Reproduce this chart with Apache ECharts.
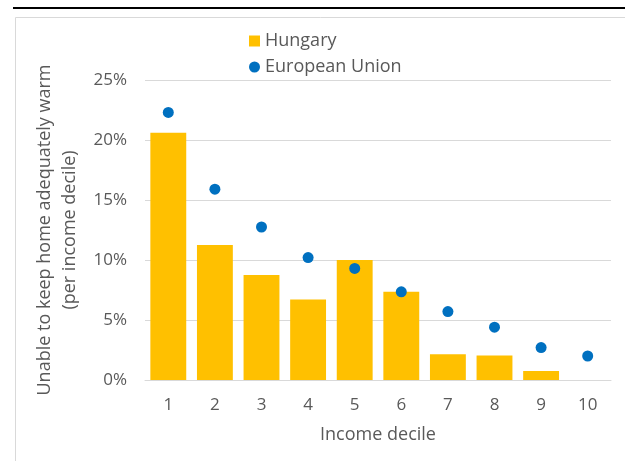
<!DOCTYPE html>
<html>
<head>
<meta charset="utf-8">
<script src="https://cdn.jsdelivr.net/npm/echarts@6/dist/echarts.min.js"></script>
<style>
html,body{margin:0;padding:0;background:#fff;}
#c{width:625px;height:461px;}
</style>
</head>
<body>
<div id="c"></div>
<script>
var categories = ['1','2','3','4','5','6','7','8','9','10'];
var hungary = [20.6, 11.25, 8.75, 6.7, 10.0, 7.35, 2.15, 2.05, 0.75, 0];
var eu = [22.3, 15.9, 12.75, 10.2, 9.3, 7.35, 5.7, 4.4, 2.7, 2.0];
var yTicks = [0, 5, 10, 15, 20, 25];

var font = '"Open Sans", "Noto Sans", sans-serif';
var txt = '#595959';
var chart = echarts.init(document.getElementById('c'), null, {renderer:'canvas'});
chart.setOption({
  animation: false,
  textStyle: {fontFamily: font},
  graphic: [
    {type:'line', shape:{x1:13, y1:8, x2:625, y2:8}, style:{stroke:'#000', lineWidth:2}},
    {type:'rect', shape:{x:15.5, y:17.5, width:700, height:600}, style:{fill:null, stroke:'#d9d9d9', lineWidth:1}}
  ],
  legend: {
    orient: 'vertical',
    left: 244,
    top: 27,
    itemWidth: 11,
    itemHeight: 11,
    itemGap: 8,
    textStyle: {color: txt, fontSize: 18, fontFamily: font},
    data: [{name:'Hungary', icon:'rect'}, {name:'European Union', icon:'circle'}]
  },
  grid: {left: 145, right: 14, top: 80, bottom: 81},
  xAxis: {
    type: 'category',
    data: categories,
    name: 'Income decile',
    nameLocation: 'middle',
    nameGap: 46,
    nameTextStyle: {color: txt, fontSize: 18, fontFamily: font},
    axisLine: {lineStyle: {color: '#d9d9d9'}},
    axisTick: {show: false},
    axisLabel: {color: txt, fontSize: 17, margin: 17, fontFamily: font}
  },
  yAxis: {
    type: 'value',
    min: yTicks[0],
    max: yTicks[yTicks.length-1],
    interval: 5,
    name: 'Unable to keep home adequately warm\n(per income decile)',
    nameLocation: 'middle',
    nameGap: 59,
    nameTextStyle: {color: txt, fontSize: 18, lineHeight: 25, fontFamily: font},
    axisLine: {show: false},
    axisTick: {show: false},
    axisLabel: {color: txt, fontSize: 17, margin: 18, formatter: '{value}%', fontFamily: font},
    splitLine: {lineStyle: {color: '#d9d9d9'}}
  },
  series: [
    {name:'Hungary', type:'bar', data: hungary, barCategoryGap: '23%', itemStyle:{color:'#FFC000'}},
    {name:'European Union', type:'scatter', data: eu, symbol:'circle', symbolSize: 11, itemStyle:{color:'#0070C0', opacity: 1}}
  ]
});
</script>
</body>
</html>
